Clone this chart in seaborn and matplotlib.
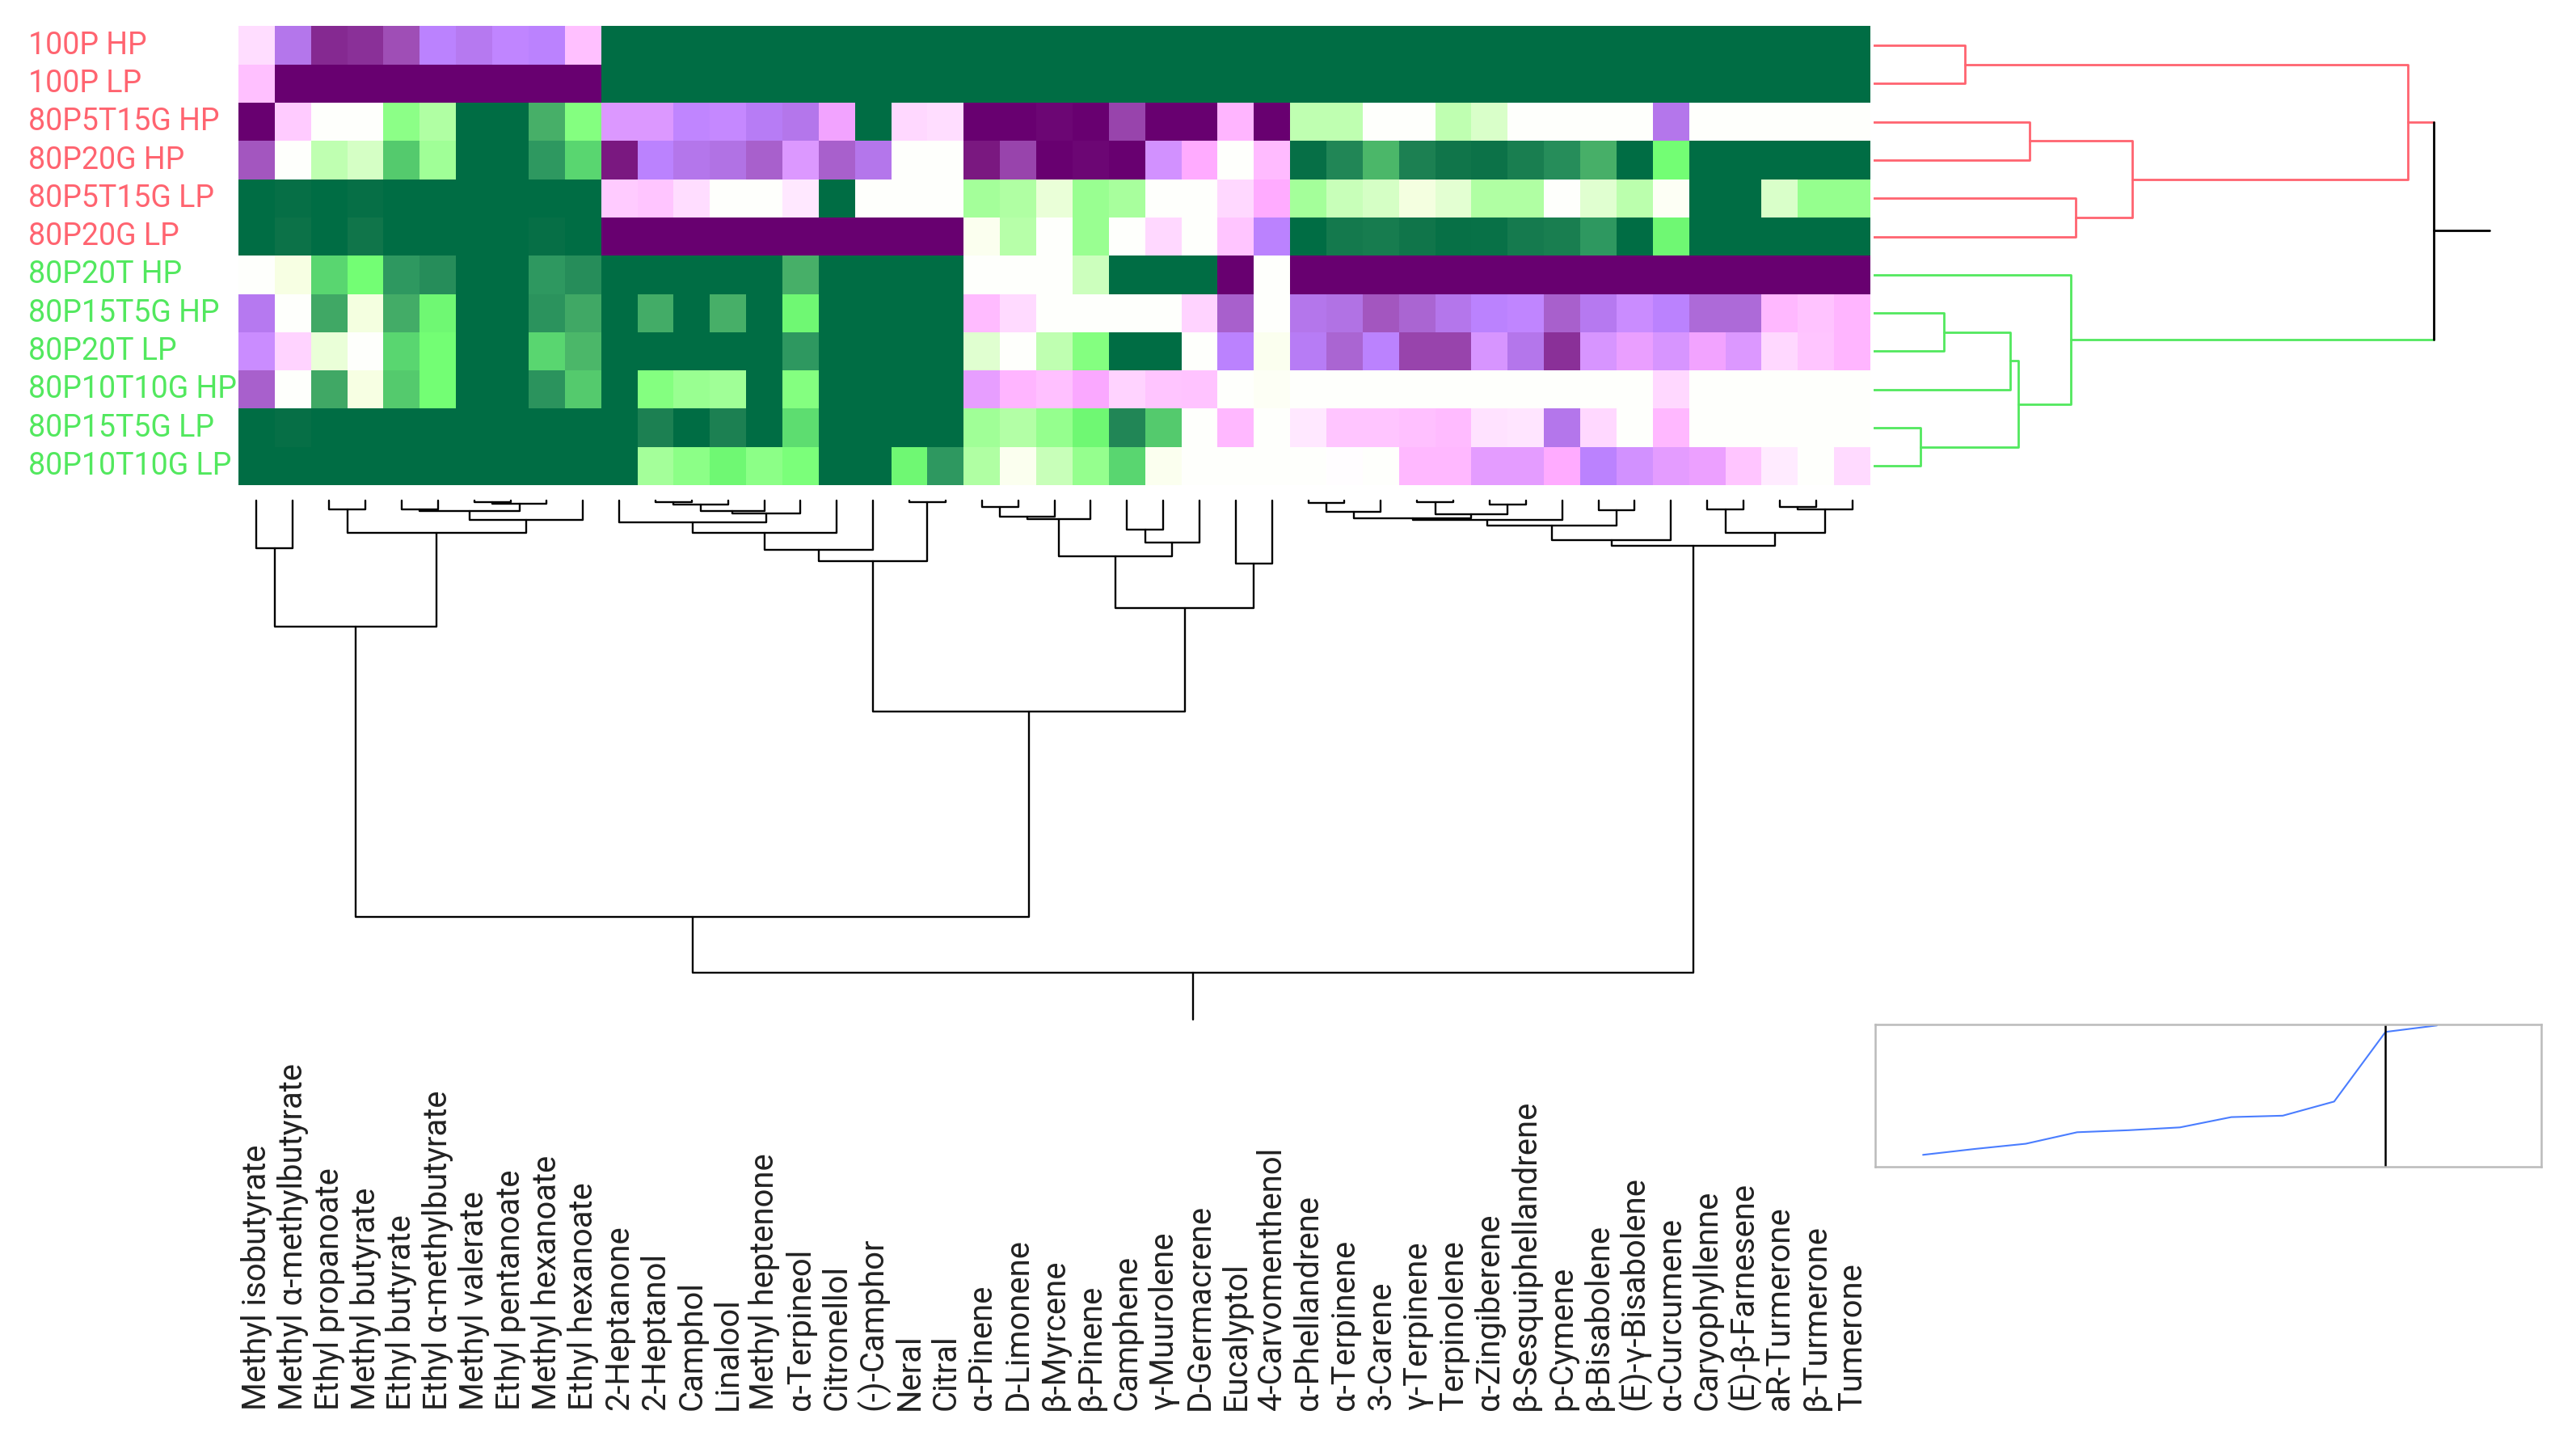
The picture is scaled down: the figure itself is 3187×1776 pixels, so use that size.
import numpy as np
import pandas as pd
import matplotlib
matplotlib.use('Agg')
import matplotlib.pyplot as plt
from matplotlib.colors import LinearSegmentedColormap
import seaborn as sns

# samples (rows, top to bottom) and compounds (columns, left to right)
samples = ['100P HP', '100P LP', '80P5T15G HP', '80P20G HP', '80P5T15G LP', '80P20G LP',
           '80P20T HP', '80P15T5G HP', '80P20T LP', '80P10T10G HP', '80P15T5G LP', '80P10T10G LP']
sample_colors = ['#ff6470'] * 6 + ['#52e85e'] * 6

compounds = ['Methyl isobutyrate', 'Methyl α-methylbutyrate', 'Ethyl propanoate', 'Methyl butyrate',
             'Ethyl butyrate', 'Ethyl α-methylbutyrate', 'Methyl valerate', 'Ethyl pentanoate',
             'Methyl hexanoate', 'Ethyl hexanoate', '2-Heptanone', '2-Heptanol', 'Camphol', 'Linalool',
             'Methyl heptenone', 'α-Terpineol', 'Citronellol', '(-)-Camphor', 'Neral', 'Citral',
             'α-Pinene', 'D-Limonene', 'β-Myrcene', 'β-Pinene', 'Camphene', 'γ-Muurolene',
             'D-Germacrene', 'Eucalyptol', '4-Carvomenthenol', 'α-Phellandrene', 'α-Terpinene',
             '3-Carene', 'γ-Terpinene', 'Terpinolene', 'α-Zingiberene', 'β-Sesquiphellandrene',
             'p-Cymene', 'β-Bisabolene', '(E)-γ-Bisabolene', 'α-Curcumene', 'Caryophyllenne',
             '(E)-β-Farnesene', 'aR-Turmerone', 'β-Turmerone', 'Tumerone']

# standardised abundance, one list per sample (clipped at +-3)
r_100P_HP = [-0.25, -1.5, -2.3, -2.2, -1.9, -1.3, -1.45, -1.25, -1.3, -0.5,
             3, 3, 3, 3, 3, 3, 3, 3, 3, 3,
             3, 3, 3, 3, 3, 3, 3, 3, 3, 3,
             3, 3, 3, 3, 3, 3, 3, 3, 3, 3,
             3, 3, 3, 3, 3]
r_100P_LP = [-0.5, -3, -3, -3, -3, -3, -3, -3, -3, -3,
             3, 3, 3, 3, 3, 3, 3, 3, 3, 3,
             3, 3, 3, 3, 3, 3, 3, 3, 3, 3,
             3, 3, 3, 3, 3, 3, 3, 3, 3, 3,
             3, 3, 3, 3, 3]
r_80P5T15G_HP = [-3, -0.4, 0, 0, 0.75, 0.55, 3, 3, 1.5, 0.8,
                 -1.0, -1.0, -1.25, -1.2, -1.4, -1.5, -0.8, 3, -0.3, -0.25,
                 -3, -3, -2.9, -3, -2.0, -3, -3, -0.6, -3, 0.45,
                 0.45, 0, 0, 0.45, 0.32, 0, 0, 0, 0, -1.5,
                 0, 0, 0, 0, 0]
r_80P20G_HP = [-1.85, 0, 0.45, 0.35, 1.3, 0.65, 3, 3, 1.85, 1.2,
               -2.6, -1.3, -1.5, -1.55, -1.75, -1.0, -1.75, -1.5, 0, 0,
               -2.6, -2.0, -3, -2.9, -3, -1.1, -0.7, 0, -0.55, 2.8,
               2.1, 1.45, 2.2, 2.5, 2.6, 2.25, 2.0, 1.5, 3, 0.9,
               3, 3, 3, 3, 3]
r_80P5T15G_LP = [3, 2.8, 3, 2.8, 3, 3, 3, 3, 3, 3,
                 -0.4, -0.45, -0.25, 0, 0, -0.15, 3, 0, 0, 0,
                 0.62, 0.55, 0.2, 0.7, 0.6, 0, 0, -0.3, -0.7, 0.62,
                 0.42, 0.35, 0.12, 0.25, 0.55, 0.55, 0, 0.28, 0.48, 0.03,
                 3, 3, 0.32, 0.72, 0.72]
r_80P20G_LP = [3, 2.6, 3, 2.5, 3, 3, 3, 3, 2.8, 3,
               -3, -3, -3, -3, -3, -3, -3, -3, -3, -3,
               0.05, 0.5, 0, 0.68, 0, -0.3, 0, -0.45, -1.3, 3,
               2.4, 2.3, 2.5, 2.75, 2.7, 2.35, 2.25, 1.85, 3, 0.95,
               3, 3, 3, 3, 3]
r_80P20T_HP = [0, 0.1, 1.2, 0.9, 1.85, 2.0, 3, 3, 1.85, 2.0,
               3, 3, 3, 3, 3, 1.5, 3, 3, 3, 3,
               0, 0, 0, 0.38, 3, 3, 3, -3, 0, -3,
               -3, -3, -3, -3, -3, -3, -3, -3, -3, -3,
               -3, -3, -3, -3, -3]
r_80P15T5G_HP = [-1.45, 0, 1.6, 0.12, 1.55, 0.95, 3, 3, 1.9, 1.6,
                 3, 1.55, 3, 1.5, 3, 0.95, 3, 3, 3, 3,
                 -0.55, -0.28, 0, 0, 0, 0, -0.35, -1.75, 0, -1.5,
                 -1.55, -1.85, -1.7, -1.5, -1.3, -1.25, -1.75, -1.45, -1.15, -1.3,
                 -1.65, -1.65, -0.58, -0.48, -0.6]
r_80P20T_LP = [-1.15, -0.35, 0.2, 0, 1.2, 0.9, 3, 3, 1.2, 1.45,
               3, 3, 3, 3, 3, 1.85, 3, 3, 3, 3,
               0.28, 0, 0.45, 0.8, 3, 3, 0, -1.3, 0.05, -1.4,
               -1.7, -1.3, -2.0, -2.0, -1.05, -1.5, -2.2, -1.05, -0.88, -1.05,
               -0.82, -1.0, -0.3, -0.45, -0.6]
r_80P10T10G_HP = [-1.75, 0, 1.6, 0.1, 1.3, 0.9, 3, 3, 1.9, 1.3,
                  3, 0.8, 0.68, 0.65, 3, 0.8, 3, 3, 3, 3,
                  -0.9, -0.6, -0.5, -0.75, -0.35, -0.45, -0.48, 0, 0.03, 0,
                  0, 0, 0, 0, 0, 0, 0, 0, 0, -0.3,
                  0, 0, 0, 0, 0]
r_80P15T5G_LP = [3, 2.8, 3, 3, 3, 3, 3, 3, 3, 3,
                 3, 2.2, 3, 2.2, 3, 1.15, 3, 3, 3, 3,
                 0.65, 0.52, 0.72, 0.95, 2.1, 1.3, 0, -0.58, 0, -0.15,
                 -0.45, -0.45, -0.5, -0.55, -0.2, -0.18, -1.5, -0.3, 0, -0.58,
                 0, 0, 0, 0, 0]
r_80P10T10G_LP = [3, 3, 3, 3, 3, 3, 3, 3, 3, 3,
                  3, 0.62, 0.75, 0.95, 0.75, 0.85, 3, 3, 0.95, 1.85,
                  0.55, 0.05, 0.42, 0.72, 1.2, 0.07, 0, 0, 0, 0,
                  -0.02, 0, -0.58, -0.58, -0.92, -0.92, -0.68, -1.3, -1.1, -0.92,
                  -0.85, -0.45, -0.12, 0, -0.28]

# row tree: (child a, child b, distance); ids >= 12 are earlier merges
row_links = [(10, 11, 59), (7, 8, 88), (0, 1, 114), (13, 9, 171), (15, 12, 181),
             (2, 3, 195), (6, 16, 246), (4, 5, 253), (17, 19, 323), (14, 20, 668),
             (21, 18, 700)]

# column tree: ids >= 45 are earlier merges
col_links = [(6, 7, 1.5), (45, 8, 3.5), (2, 3, 10.5), (4, 5, 10.5), (48, 46, 13),
             (49, 9, 24), (47, 50, 40), (0, 1, 58.5), (52, 51, 156),
             (11, 12, 2), (54, 13, 5), (55, 14, 12.5), (56, 15, 15.5), (10, 57, 27),
             (58, 16, 40), (59, 17, 61), (18, 19, 1.5), (60, 61, 75),
             (20, 21, 7.5), (63, 22, 20), (64, 23, 23), (24, 25, 35.5), (66, 26, 52),
             (65, 67, 69), (27, 28, 78), (68, 69, 133),
             (62, 70, 261), (53, 71, 514),
             (29, 30, 2.5), (73, 31, 14), (32, 33, 1.5), (34, 35, 5), (75, 76, 16.5),
             (74, 77, 21.5), (78, 36, 23.5), (37, 38, 11.5), (79, 80, 30.5), (81, 39, 49),
             (40, 41, 10.5), (42, 43, 7.5), (84, 44, 10.5), (83, 85, 40), (82, 86, 55.5),
             (72, 87, 583.5)]
cut_step = 9

df = pd.DataFrame([r_100P_HP, r_100P_LP, r_80P5T15G_HP, r_80P20G_HP, r_80P5T15G_LP, r_80P20G_LP,
                   r_80P20T_HP, r_80P15T5G_HP, r_80P20T_LP, r_80P10T10G_HP, r_80P15T5G_LP,
                   r_80P10T10G_LP], index=samples, columns=compounds)

# purple - white - green map
stops = [(-3.0, '#680070'), (-2.6, '#7a1880'), (-2.2, '#8a3098'), (-1.9, '#a050b8'),
         (-1.6, '#b070e0'), (-1.3, '#bb82ff'), (-1.0, '#dc98ff'), (-0.7, '#ffaaff'),
         (-0.4, '#ffccff'), (-0.15, '#ffe8ff'), (0.0, '#ffffff'), (0.1, '#f8ffe4'),
         (0.3, '#dcffcc'), (0.5, '#b8ffaa'), (0.7, '#98ff90'), (0.9, '#74ff74'),
         (1.2, '#5ad870'), (1.5, '#48b068'), (1.85, '#2e9860'), (2.2, '#1c8052'),
         (2.6, '#0c7248'), (3.0, '#006d44')]
cmap = LinearSegmentedColormap.from_list('pg', [((v + 3) / 6, c) for v, c in stops])

sns.set_style('white')
plt.rcParams['font.family'] = ['Roboto', 'DejaVu Sans']


def link_coords(links, n):
    # leaf centre / height for every node, merges drawn at the midpoint of children
    pos = [i + 0.5 for i in range(n)]
    hgt = [0.0] * n
    out = []
    for a, b, h in links:
        out.append((a, b, pos[a], hgt[a], pos[b], hgt[b], h))
        pos.append((pos[a] + pos[b]) / 2)
        hgt.append(h)
    return out, pos


W, H = 3187, 1776
fig = plt.figure(figsize=(W / 100, H / 100), dpi=100)


def px_axes(x0, y0, x1, y1):
    return fig.add_axes([x0 / W, 1 - y1 / H, (x1 - x0) / W, (y1 - y0) / H])


# heatmap
ax = px_axes(295, 32.5, 2314, 600)
sns.heatmap(df, ax=ax, cmap=cmap, vmin=-3, vmax=3, cbar=False,
            xticklabels=True, yticklabels=True, linewidths=0)
ax.set_yticklabels(samples, rotation=0, ha='left', fontsize=27)
for lbl, c in zip(ax.get_yticklabels(), sample_colors):
    lbl.set_color(c)
ax.set_xticklabels(compounds, rotation=90, va='bottom', ha='center', fontsize=28.8, color='#222222')
ax.tick_params(axis='both', length=0)
ax.tick_params(axis='y', pad=187)
ax.tick_params(axis='x', pad=824)
ax.set_xlabel('')
ax.set_ylabel('')

# column dendrogram (below the heatmap)
axc = px_axes(295, 619.5, 2314, 1280)
segs, cpos = link_coords(col_links, len(compounds))
for a, b, pa, ha, pb, hb, h in segs:
    axc.plot([pa, pa, pb, pb], [ha, h, h, hb], color='black', lw=1.7, clip_on=False)
root_h = col_links[-1][2]
axc.plot([cpos[-1], cpos[-1]], [root_h, root_h * 1.1], color='black', lw=1.7)
axc.set_xlim(0, len(compounds))
axc.set_ylim(660.5, 0)
axc.axis('off')

# row dendrogram (right of the heatmap), coloured by cluster
axr = px_axes(2318, 32.5, 3100, 600)
segs, rpos = link_coords(row_links, len(samples))
node_col = list(sample_colors)
for a, b, pa, ha, pb, hb, h in segs:
    ca, cb = node_col[a], node_col[b]
    if ca == cb and ca is not None:
        axr.plot([ha, h, h, hb], [pa, pa, pb, pb], color=ca, lw=2)
        node_col.append(ca)
    else:
        axr.plot([ha, h], [pa, pa], color=ca, lw=2)
        axr.plot([hb, h], [pb, pb], color=cb, lw=2)
        axr.plot([h, h], [pa, pb], color='black', lw=2)
        node_col.append(None)
root_h = row_links[-1][2]
axr.plot([root_h, root_h * 1.1], [rpos[-1], rpos[-1]], color='black', lw=2)
axr.set_xlim(0, 790)
axr.set_ylim(len(samples), 0)
axr.axis('off')

# inset: merge distance at each clustering step
axi = px_axes(2320, 1267, 3144, 1443)
steps = np.arange(len(row_links))
merge_d = sorted(h for _, _, h in row_links)
sns.lineplot(x=steps, y=merge_d, ax=axi, color='#4a7dff', lw=1.5)
axi.axvline(cut_step, color='black', lw=1.8)
axi.set_xlim(-0.93, 12.03)
axi.set_ylim(0, 705)
axi.set_xticks([])
axi.set_yticks([])
for s in axi.spines.values():
    s.set_color('#bbbbbb')
    s.set_linewidth(1.8)

fig.savefig('out.png', dpi=100)
